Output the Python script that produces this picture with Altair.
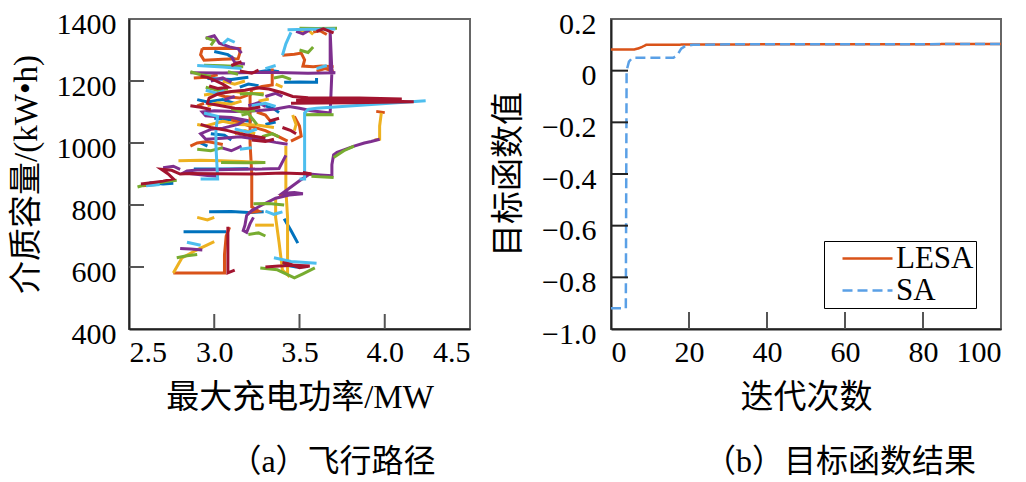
import altair as alt
import pandas as pd

# ---------------- (a) flight paths: colour -> list of path segments (x = MW, y = kW·h)
BLUE = "#0072BD"; ORANGE = "#D95319"; YELLOW = "#EDB120"; PURPLE = "#7E2F8E"
GREEN = "#77AC30"; LBLUE = "#4DBEEE"; DRED = "#A2142F"

BLUE_SEGS = [
    [(2.97, 778), (3.10, 779), (3.20, 776), (3.29, 778)],
    [(3.41, 756), (3.45, 718), (3.49, 677)],
    [(3.41, 1196), (3.50, 1197), (3.60, 1196), (3.60, 1210)],
    [(2.82, 714), (2.95, 714), (3.07, 714)],
    [(2.88, 916), (3.05, 916), (3.20, 917)],
    [(3.00, 1295), (3.08, 1285), (3.12, 1270)],
    [(2.96, 1208), (3.10, 1205), (3.20, 1212)],
    [(3.00, 1080), (3.10, 1075), (3.22, 1070)],
    [(2.90, 1140), (2.96, 1132), (3.05, 1140), (3.12, 1128)],
    [(3.25, 1228), (3.32, 1235), (3.38, 1230)],
    [(2.62, 872), (2.70, 868), (2.76, 870)],
    [(3.40, 608), (3.48, 600), (3.55, 602)],
    [(2.98, 1030), (3.06, 1025), (3.10, 1010)],
    [(3.30, 1120), (3.35, 1110), (3.38, 1098)],
    [(3.15, 1180), (3.20, 1190), (3.26, 1185)],
    [(2.92, 1000), (2.96, 990)],
    [(3.30, 1060), (3.36, 1068)],
]
ORANGE_SEGS = [
    [(2.93, 1305), (3.04, 1306), (3.15, 1305), (3.15, 1290), (3.14, 1272), (3.05, 1270), (2.94, 1267), (2.92, 1285), (2.93, 1305)],
    [(3.34, 1240), (3.34, 1215), (3.34, 1187), (3.28, 1182), (3.22, 1172), (3.21, 1150), (3.21, 1080), (3.21, 1000),
     (3.22, 900), (3.22, 850), (3.22, 794), (3.26, 780), (3.20, 775)],
    [(2.76, 581), (2.90, 581), (3.06, 581), (3.06, 640), (3.07, 700), (3.09, 728)],
    [(3.40, 1283), (3.47, 1286), (3.51, 1290), (3.53, 1268), (3.52, 1248), (3.58, 1246), (3.63, 1248), (3.70, 1246)],
    [(3.10, 1075), (3.20, 1056), (3.30, 1040), (3.38, 1020), (3.43, 1006)],
    [(3.47, 1086), (3.50, 1055), (3.51, 1022), (3.45, 1006)],
    [(3.95, 1102), (4.00, 1098)],
    [(2.58, 862), (2.66, 866)],
    [(2.88, 1210), (2.95, 1212), (3.02, 1220)],
    [(3.00, 1160), (3.06, 1150), (3.15, 1145), (3.20, 1155)],
    [(2.86, 990), (2.90, 1000), (2.96, 1005), (3.05, 995)],
    [(3.60, 1232), (3.65, 1240), (3.70, 1232)],
    [(3.38, 830), (3.45, 835)],
    [(3.58, 1358), (3.62, 1362), (3.66, 1350)],
    [(3.25, 1100), (3.30, 1090), (3.33, 1070)],
    [(2.90, 1120), (2.94, 1128)],
]
YELLOW_SEGS = [
    [(2.79, 943), (2.92, 944), (3.04, 943), (3.16, 940), (3.29, 937)],
    [(3.42, 990), (3.42, 920), (3.42, 850), (3.43, 760), (3.43, 680), (3.43, 575), (3.40, 590), (3.38, 680), (3.36, 760), (3.36, 820)],
    [(3.98, 1097), (3.97, 1055), (3.97, 1012), (3.94, 1010)],
    [(2.76, 581), (2.79, 610), (2.81, 629), (2.88, 650), (2.92, 661), (3.00, 682)],
    [(2.94, 1155), (3.03, 1162), (3.12, 1166), (3.20, 1160), (3.29, 1160)],
    [(2.90, 1060), (2.95, 1055), (3.05, 1070), (3.14, 1060), (3.25, 1058), (3.35, 1050)],
    [(3.24, 735), (3.35, 735)],
    [(2.90, 760), (2.96, 752), (3.00, 760)],
    [(2.96, 1120), (3.02, 1130), (3.10, 1125), (3.16, 1135)],
    [(3.12, 1030), (3.18, 1040), (3.24, 1030)],
    [(3.50, 1360), (3.55, 1365), (3.58, 1350)],
    [(3.36, 1190), (3.40, 1180)],
    [(3.46, 1090), (3.48, 1060), (3.47, 1040)],
    [(3.05, 1200), (3.12, 1190), (3.18, 1200)],
    [(3.26, 1135), (3.32, 1142)],
]
PURPLE_SEGS = [
    [(2.86, 1227), (3.05, 1226), (3.30, 1228), (3.55, 1225), (3.71, 1227), (3.68, 1229), (3.68, 1357), (3.69, 1230),
     (3.68, 1097), (3.63, 1100), (3.57, 1104), (3.50, 1112), (3.44, 1118), (3.36, 1110), (3.25, 1104), (3.12, 1102),
     (3.00, 1104), (2.93, 1100), (2.95, 1088), (3.02, 1085), (3.10, 1082), (3.18, 1074), (3.14, 1060), (3.05, 1048),
     (2.98, 1044), (2.92, 1030), (2.95, 1012), (3.05, 1015), (3.15, 1020), (3.26, 1012), (3.36, 1002), (3.43, 996)],
    [(3.97, 1012), (3.92, 1005), (3.88, 1000), (3.82, 990), (3.76, 978), (3.72, 970), (3.70, 962), (3.69, 930),
     (3.69, 894), (3.62, 897), (3.56, 900), (3.50, 878), (3.46, 862), (3.40, 838), (3.47, 840), (3.52, 836),
     (3.44, 832), (3.36, 822), (3.28, 800), (3.22, 782), (3.19, 766), (3.18, 735), (3.17, 718), (3.19, 712),
     (3.21, 740), (3.23, 760)],
    [(3.42, 960), (3.38, 918), (3.28, 916), (3.15, 915), (3.02, 914), (2.90, 913), (2.84, 910), (2.82, 904),
     (2.88, 900), (2.96, 895), (3.02, 893)],
    [(2.95, 1338), (3.00, 1346), (3.03, 1322), (3.09, 1310), (3.14, 1304), (3.16, 1290)],
    [(2.80, 660), (2.86, 658), (2.93, 655)],
    [(3.48, 1360), (3.52, 1352), (3.56, 1365)],
    [(3.10, 1280), (3.12, 1260), (3.18, 1255)],
    [(3.20, 1120), (3.26, 1130), (3.30, 1118)],
    [(2.98, 1200), (3.05, 1210), (3.10, 1195)],
    [(3.04, 985), (3.10, 975), (3.16, 990)],
    [(2.70, 920), (2.76, 925), (2.80, 915)],
    [(3.30, 1150), (3.36, 1160), (3.40, 1150)],
    [(3.06, 1140), (3.12, 1150)],
]
GREEN_SEGS = [
    [(2.55, 858), (2.60, 866), (2.66, 870), (2.72, 876), (2.78, 880)],
    [(3.23, 804), (3.32, 805), (3.41, 800)],
    [(3.53, 1091), (3.62, 1092), (3.70, 1091)],
    [(3.70, 889), (3.62, 891), (3.57, 893)],
    [(3.70, 953), (3.76, 975), (3.82, 990)],
    [(3.50, 1370), (3.60, 1369), (3.72, 1370)],
    [(2.94, 1251), (3.05, 1249), (3.17, 1246)],
    [(3.15, 1158), (3.22, 1160), (3.29, 1155)],
    [(3.27, 597), (3.37, 591), (3.47, 565), (3.52, 578), (3.59, 597)],
    [(2.78, 630), (2.84, 636), (2.90, 640)],
    [(3.04, 937), (3.18, 936), (3.30, 937)],
    [(2.86, 1230), (2.92, 1220), (2.98, 1215)],
    [(3.16, 1090), (3.20, 1095), (3.25, 1060)],
    [(2.95, 1340), (3.00, 1330), (2.98, 1315)],
    [(3.10, 1110), (3.16, 1100), (3.24, 1105)],
    [(3.35, 1210), (3.40, 1215), (3.45, 1205)],
    [(2.90, 980), (2.98, 975), (3.05, 985)],
    [(3.50, 1300), (3.55, 1292), (3.58, 1310)],
    [(3.20, 705), (3.26, 710), (3.30, 700)],
    [(2.95, 1180), (3.02, 1170), (3.08, 1175)],
    [(3.28, 1020), (3.34, 1030), (3.38, 1020)],
    [(3.08, 1230), (3.14, 1222)],
]
LBLUE_SEGS = [
    [(3.43, 1365), (3.55, 1367), (3.71, 1368)],
    [(3.45, 1357), (3.42, 1320), (3.40, 1283)],
    [(4.24, 1136), (3.90, 1123), (3.60, 1112), (3.55, 1108), (3.53, 1097), (3.53, 1000), (3.53, 884), (3.50, 884)],
    [(2.94, 1097), (3.02, 1086), (3.01, 1040), (3.01, 990), (3.02, 884), (2.92, 884)],
    [(3.35, 630), (3.45, 618), (3.60, 612)],
    [(2.90, 1250), (3.05, 1245), (3.16, 1240)],
    [(2.60, 862), (2.68, 866)],
    [(2.84, 680), (2.92, 670)],
    [(3.05, 1320), (3.08, 1335), (3.12, 1325)],
    [(3.22, 1120), (3.30, 1128), (3.36, 1118)],
    [(2.95, 1170), (3.02, 1160), (3.06, 1170)],
    [(3.12, 1045), (3.20, 1035), (3.25, 1045)],
    [(3.30, 780), (3.35, 770), (3.40, 778)],
    [(3.60, 1240), (3.66, 1250)],
    [(3.15, 980), (3.22, 985)],
    [(3.30, 1240), (3.36, 1250)],
]
DRED_SEGS = [
    [(2.57, 868), (2.63, 872), (2.70, 877), (2.76, 884), (2.73, 900), (2.69, 915), (2.75, 912), (2.80, 900),
     (2.86, 902), (3.00, 901), (3.21, 900), (3.40, 903), (3.57, 900), (3.52, 905)],
    [(3.45, 1128), (3.80, 1130), (4.17, 1133), (3.90, 1136), (3.60, 1138), (3.48, 1138), (3.75, 1140), (4.10, 1142),
     (3.85, 1145), (3.55, 1146), (3.46, 1150), (3.40, 1162), (3.32, 1174), (3.25, 1178), (3.18, 1170), (3.10, 1166),
     (3.02, 1158), (2.97, 1145), (2.96, 1128), (3.04, 1120), (3.12, 1112), (3.20, 1110), (3.27, 1116)],
    [(2.92, 1216), (2.97, 1210), (3.01, 1200), (3.05, 1190), (3.08, 1180), (3.02, 1176), (2.97, 1184)],
    [(3.08, 730), (3.08, 660), (3.08, 581), (3.12, 590)],
    [(3.30, 600), (3.38, 603), (3.47, 606), (3.56, 603), (3.50, 598), (3.44, 610), (3.40, 615)],
    [(2.92, 1060), (2.98, 1050), (3.08, 1040), (3.15, 1030), (3.25, 1020), (3.30, 1015)],
    [(3.60, 1360), (3.64, 1368), (3.70, 1355)],
    [(3.15, 1232), (3.22, 1225), (3.26, 1235)],
    [(3.40, 1050), (3.45, 1040), (3.48, 1030)],
    [(2.86, 1120), (2.92, 1115), (2.98, 1108)],
    [(3.22, 1010), (3.30, 1005), (3.35, 1012)],
    [(3.10, 1250), (3.16, 1262)],
    [(3.32, 1070), (3.38, 1080)],
]

X_TICKS_A = [2.5, 3.0, 3.5, 4.0, 4.5]
Y_TICKS_A = [400, 600, 800, 1000, 1200, 1400]

# ---------------- (b) objective function
LESA_ITER = [0, 6, 7, 8, 9, 20, 40, 100]
LESA_VAL = [0.082, 0.082, 0.086, 0.092, 0.100, 0.101, 0.102, 0.103]
SA_ITER = [0, 3.8, 4.0, 4.6, 5.5, 16.0, 17.0, 18.0, 19.0, 21.0, 30.0, 100]
SA_VAL = [-0.92, -0.92, 0.0, 0.035, 0.05, 0.05, 0.06, 0.085, 0.095, 0.10, 0.102, 0.103]
X_TICKS_B = [0, 20, 40, 60, 80, 100]
Y_TICKS_B = [0.2, 0.0, -0.2, -0.4, -0.6, -0.8, -1.0]

# ---------------- build tables
groups = [(BLUE, BLUE_SEGS), (ORANGE, ORANGE_SEGS), (YELLOW, YELLOW_SEGS), (PURPLE, PURPLE_SEGS),
          (GREEN, GREEN_SEGS), (LBLUE, LBLUE_SEGS), (DRED, DRED_SEGS)]
rows = []
seg_id = 0
for col, segs in groups:
    for seg in segs:
        for i, (x, y) in enumerate(seg):
            rows.append({"seg": seg_id, "i": i, "x": x, "y": y, "col": col})
        seg_id += 1
paths = pd.DataFrame(rows)

obj = pd.concat([
    pd.DataFrame({"it": LESA_ITER, "val": LESA_VAL, "s": "LESA"}),
    pd.DataFrame({"it": SA_ITER, "val": SA_VAL, "s": "SA"}),
])

W_A, W_B, H = 341, 390, 310
NUM_FONT = "Liberation Serif"
MIX_FONT = "Liberation Serif, Noto Sans CJK SC"
TICK_COL = "#555555"

xs_a = alt.Scale(domain=[2.5, 4.5], nice=False, zero=False)
ys_a = alt.Scale(domain=[400, 1400], nice=False, zero=False)

lines_a = alt.Chart(paths).mark_line(strokeWidth=3).encode(
    x=alt.X("x:Q", scale=xs_a, axis=alt.Axis(values=X_TICKS_A, format=".1f", title="最大充电功率/MW",
                                            labelPadding=8, titlePadding=14)),
    y=alt.Y("y:Q", scale=ys_a, axis=alt.Axis(values=Y_TICKS_A, format="d", title="介质容量/(kW•h)",
                                            labelPadding=13, titlePadding=13, labelOffset=5)),
    detail="seg:N",
    order="i:Q",
    color=alt.Color("col:N", scale=None),
)
xt_a = alt.Chart(pd.DataFrame({"v": X_TICKS_A[1:-1]})).mark_rule(color=TICK_COL, strokeWidth=2).encode(
    x=alt.X("v:Q", scale=xs_a), y=alt.value(H), y2=alt.value(H - 15))
yt_a = alt.Chart(pd.DataFrame({"v": Y_TICKS_A[1:-1]})).mark_rule(color=TICK_COL, strokeWidth=2).encode(
    y=alt.Y("v:Q", scale=ys_a), x=alt.value(0), x2=alt.value(15))

panel_a = alt.layer(lines_a, xt_a, yt_a).properties(
    width=W_A, height=H,
    title=alt.TitleParams("（a）飞行路径", orient="bottom", anchor="middle", frame="group", dx=33, offset=33,
                          font=MIX_FONT, fontSize=32, fontWeight="normal", color="black"))

xs_b = alt.Scale(domain=[0, 100], nice=False, zero=False)
ys_b = alt.Scale(domain=[-1.0, 0.2], nice=False, zero=False)
legend = alt.Legend(title=None, orient="none", legendX=213, legendY=222, direction="vertical",
                    strokeColor="black", fillColor="white", padding=2, rowPadding=0,
                    symbolType="M-5,0H5", symbolSize=100, symbolStrokeWidth=2.5, symbolOffset=26,
                    labelFont=NUM_FONT, labelFontSize=31, labelColor="black", labelOffset=13)
lines_b = alt.Chart(obj).mark_line(strokeWidth=2.5).encode(
    x=alt.X("it:Q", scale=xs_b, axis=alt.Axis(values=X_TICKS_B, format="d", title="迭代次数",
                                             labelPadding=8, titlePadding=14)),
    y=alt.Y("val:Q", scale=ys_b, axis=alt.Axis(values=Y_TICKS_B, title="目标函数值", labelPadding=15, titlePadding=16,
                                              labelOffset=5,
                                              labelExpr="datum.value == 0 ? '0' : format(datum.value, '.1f')")),
    color=alt.Color("s:N", scale=alt.Scale(domain=["LESA", "SA"], range=["#D95319", "#5AA0E6"]), legend=legend),
    strokeDash=alt.StrokeDash("s:N", scale=alt.Scale(domain=["LESA", "SA"], range=[[1, 0], [10, 5]]), legend=legend),
)
xt_b = alt.Chart(pd.DataFrame({"v": X_TICKS_B[1:-1]})).mark_rule(color=TICK_COL, strokeWidth=2).encode(
    x=alt.X("v:Q", scale=xs_b), y=alt.value(H), y2=alt.value(H - 17))
yt_b = alt.Chart(pd.DataFrame({"v": Y_TICKS_B[1:-1]})).mark_rule(color="#222222", strokeWidth=2).encode(
    y=alt.Y("v:Q", scale=ys_b), x=alt.value(0), x2=alt.value(17))

panel_b = alt.layer(lines_b, xt_b, yt_b).properties(
    width=W_B, height=H,
    title=alt.TitleParams("（b）目标函数结果", orient="bottom", anchor="middle", frame="group", dx=34, offset=33,
                          font=MIX_FONT, fontSize=32, fontWeight="normal", color="black"))

chart = alt.hconcat(panel_a, panel_b, spacing=20).resolve_scale(
    color="independent", strokeDash="independent"
).properties(
    padding={"left": 0, "top": 0, "right": 0, "bottom": 6}
).configure_view(stroke="#666666", strokeWidth=2).configure_axis(
    grid=False, ticks=False, domainColor="#222222", domainWidth=2,
    labelFont=NUM_FONT, labelFontSize=30, labelColor="black",
    titleFont=MIX_FONT, titleFontSize=33, titleFontWeight="normal", titleColor="black",
)

chart.save("out.html", embed_options={"renderer": "svg", "actions": False})
